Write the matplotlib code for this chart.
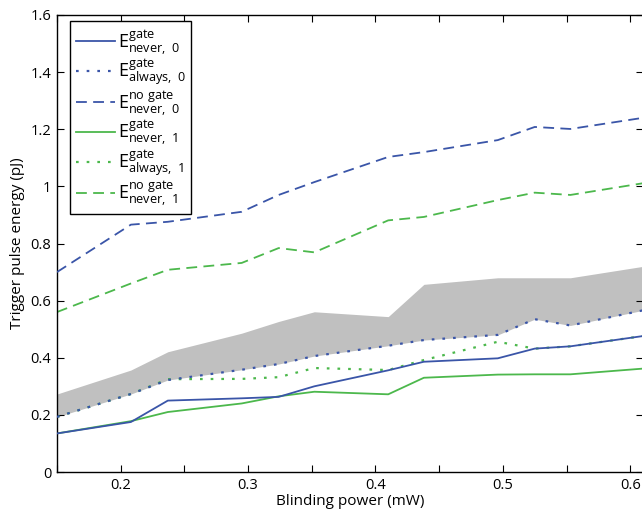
import numpy as np
import matplotlib
matplotlib.use("Agg")
import matplotlib.pyplot as plt

# blinding power (mW)
power = [0.15, 0.208, 0.237, 0.295, 0.324, 0.352, 0.41, 0.438, 0.496, 0.525, 0.553, 0.61]

# trigger pulse energies (pJ)
e_gate_never_0 = [0.135, 0.175, 0.25, 0.258, 0.263, 0.30, 0.356, 0.386, 0.398, 0.432, 0.44, 0.476]
e_gate_always_0 = [0.193, 0.273, 0.322, 0.358, 0.378, 0.406, 0.442, 0.462, 0.48, 0.535, 0.513, 0.566]
e_nogate_never_0 = [0.70, 0.866, 0.876, 0.911, 0.97, 1.015, 1.103, 1.12, 1.162, 1.208, 1.201, 1.24]
e_gate_never_1 = [0.135, 0.178, 0.21, 0.24, 0.265, 0.281, 0.272, 0.33, 0.341, 0.342, 0.342, 0.362]
e_gate_always_1 = [0.193, 0.273, 0.325, 0.326, 0.332, 0.364, 0.357, 0.392, 0.456, 0.432, 0.44, 0.476]
e_nogate_never_1 = [0.56, 0.66, 0.708, 0.732, 0.784, 0.769, 0.881, 0.893, 0.952, 0.978, 0.97, 1.011]

# upper edge of the grey band (lower edge = e_gate_always_0)
band_top = [0.273, 0.357, 0.421, 0.486, 0.527, 0.561, 0.544, 0.657, 0.68, 0.68, 0.68, 0.72]

BLUE = "#3A55A8"
GREEN = "#4CB84C"

plt.rcParams["font.family"] = ["Open Sans", "DejaVu Sans"]
plt.rcParams["mathtext.default"] = "regular"

fig = plt.figure(figsize=(6.42, 5.12), dpi=100)
ax = fig.add_axes([57 / 642, 1 - 472 / 512, 586 / 642, 457 / 512])

ax.fill_between(power, e_gate_always_0, band_top, color="#C0C0C0", lw=0, zorder=1)

lw = 1.3
dash = (0, (6, 3.5))
dot = (0, (1.2, 3.6))
ax.plot(power, e_gate_never_0, color=BLUE, lw=lw, zorder=3,
        label=r"E$^{gate}_{never,\ 0}$")
ax.plot(power, e_gate_always_0, color=BLUE, lw=lw + 0.3, ls=dot, zorder=3,
        label=r"E$^{gate}_{always,\ 0}$")
ax.plot(power, e_nogate_never_0, color=BLUE, lw=lw, ls=dash, zorder=3,
        label=r"E$^{no\ gate}_{never,\ 0}$")
ax.plot(power, e_gate_never_1, color=GREEN, lw=lw, zorder=2,
        label=r"E$^{gate}_{never,\ 1}$")
ax.plot(power, e_gate_always_1, color=GREEN, lw=lw + 0.3, ls=dot, zorder=2,
        label=r"E$^{gate}_{always,\ 1}$")
ax.plot(power, e_nogate_never_1, color=GREEN, lw=lw, ls=dash, zorder=2,
        label=r"E$^{no\ gate}_{never,\ 1}$")

ax.set_xlim(0.15, 0.61)
ax.set_ylim(0, 1.6)

xt = np.round(np.arange(0.15, 0.61, 0.05), 2)
ax.set_xticks(xt)
ax.set_xticklabels(["%g" % v if abs(v * 10 - round(v * 10)) < 1e-6 else "" for v in xt])
yt = np.round(np.arange(0, 1.61, 0.2), 1)
ax.set_yticks(yt)
ax.set_yticklabels(["%g" % v for v in yt])
ax.tick_params(direction="in", length=5, width=0.8, top=True, right=True,
               labelsize=10.5, pad=4)
for sp in ax.spines.values():
    sp.set_linewidth(1.0)

ax.set_xlabel("Blinding power (mW)", fontsize=11, labelpad=1)
ax.set_ylabel("Trigger pulse energy (pJ)", fontsize=11, labelpad=4)

leg = ax.legend(loc="upper left", bbox_to_anchor=(0.012, 1.0), fontsize=13,
                handlelength=2.2, handletextpad=0.15, labelspacing=0.0,
                borderpad=0.3, borderaxespad=0.35, fancybox=False, framealpha=1)
leg.get_frame().set_edgecolor("black")
leg.get_frame().set_linewidth(1.0)

fig.savefig("out.png", dpi=100)
